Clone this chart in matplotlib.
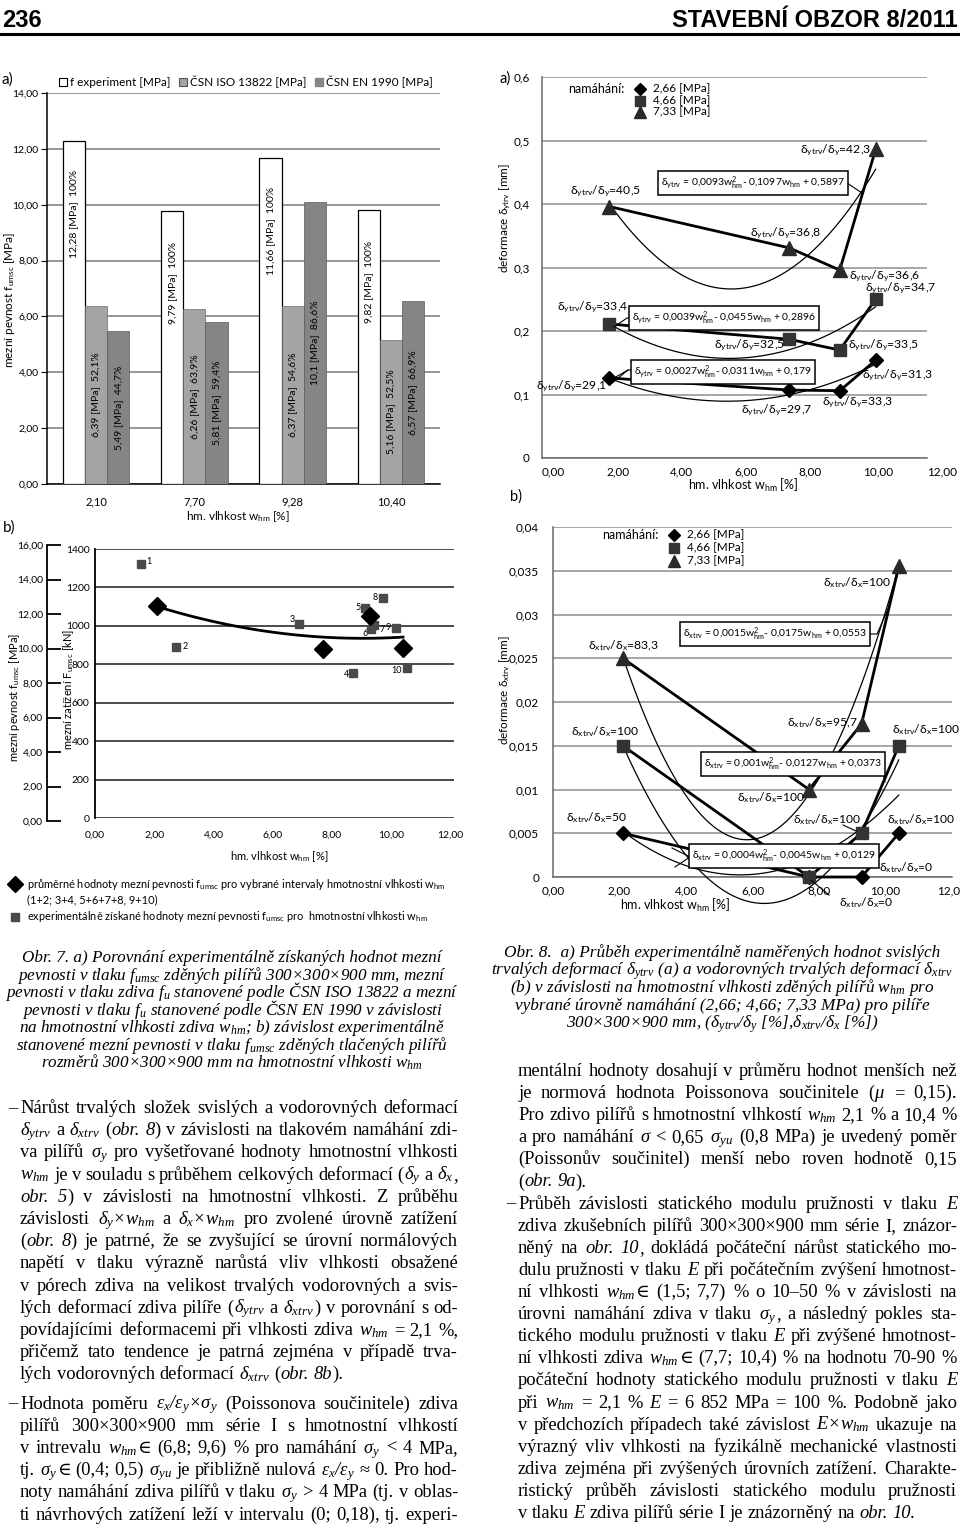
import numpy as np
import matplotlib
matplotlib.use("Agg")
import matplotlib.pyplot as plt
from matplotlib.patches import Patch
from matplotlib.lines import Line2D

W, H = 960, 1527
SANS = ["Lato", "DejaVu Sans"]
SERIF = ["Liberation Serif", "DejaVu Serif"]
plt.rcParams["font.family"] = SANS
plt.rcParams["mathtext.default"] = "regular"

# obr. 7a - pevnosti
moisture = [2.10, 7.70, 9.28, 10.40]
moisture_lbl = ["2,10", "7,70", "9,28", "10,40"]
f_exp = [12.28, 9.79, 11.66, 9.82]
f_iso = [6.39, 6.26, 6.37, 5.16]
f_en = [5.49, 5.81, 10.1, 6.57]
pct_iso = ["52,1%", "63,9%", "54,6%", "52,5%"]
pct_en = ["44,7%", "59,4%", "86,6%", "66,9%"]

# obr. 7b - mezni zatizeni
w_test = [1.54, 2.75, 6.90, 8.70, 9.12, 9.33, 9.43, 9.72, 10.15, 10.53]
F_test = [1321, 892, 1008, 757, 1091, 982, 1003, 1143, 990, 779]
F_mean = [1105, 881, 1049, 884]

# obr. 8a - svisle trvale deformace
dy_266 = [0.126, 0.107, 0.106, 0.154]
dy_466 = [0.211, 0.187, 0.170, 0.250]
dy_733 = [0.396, 0.331, 0.296, 0.486]
ry_266 = ["29,1", "29,7", "33,3", "31,3"]
ry_466 = ["33,4", "32,5", "33,5", "34,7"]
ry_733 = ["40,5", "36,8", "36,6", "42,3"]
cy_266 = [0.0027, -0.0311, 0.179]
cy_466 = [0.0039, -0.0455, 0.2896]
cy_733 = [0.0093, -0.1097, 0.5897]

# obr. 8b - vodorovne trvale deformace
dx_266 = [0.005, 0.0, 0.0, 0.005]
dx_466 = [0.015, 0.0, 0.005, 0.015]
dx_733 = [0.025, 0.010, 0.0175, 0.0355]
rx_266 = ["50", None, "0", "100"]
rx_466 = ["100", "0", "100", "100"]
rx_733 = ["83,3", "100", "95,7", "100"]
cx_266 = [0.0004, -0.0045, 0.0129]
cx_466 = [0.001, -0.0127, 0.0373]
cx_733 = [0.0015, -0.0175, 0.0553]

fig = plt.figure(figsize=(W / 100, H / 100), dpi=100)


def box(x0, y0, x1, y1):
    return [x0 / W, 1 - y1 / H, (x1 - x0) / W, (y1 - y0) / H]


def ftext(x, y, s, **kw):
    return fig.text(x / W, 1 - y / H, s, **kw)


def fline(xs, ys, lw=0.8, color="black"):
    fig.add_artist(Line2D([x / W for x in xs], [1 - y / H for y in ys],
                          transform=fig.transFigure, lw=lw, color=color))


def fmark(x, y, m, ms, color):
    fig.add_artist(Line2D([x / W], [1 - y / H], marker=m, ms=ms, color=color,
                          ls="none", transform=fig.transFigure))


def comma(v):
    return str(v).replace(".", ",")


# ---------------- header
HEAD = ["Liberation Sans Narrow", "Liberation Sans"]
ftext(2, 27, "236", fontsize=17, fontweight="bold", family=HEAD, va="baseline")
ftext(958, 27, "STAVEBNÍ OBZOR 8/2011", fontsize=17, fontweight="bold",
      family=HEAD, va="baseline", ha="right")
fline([0, 960], [34, 34], lw=2.2)

# ---------------- obr. 7a
ax = fig.add_axes(box(47, 93, 440, 484))
pos = np.arange(len(moisture))
bw = 0.225
ax.bar(pos - bw, f_exp, bw, color="white", edgecolor="black", lw=0.9, zorder=3)
ax.bar(pos, f_iso, bw, color="#a4a4a4", edgecolor="#6a6a6a", lw=0.5, zorder=3)
ax.bar(pos + bw, f_en, bw, color="#858585", edgecolor="#5a5a5a", lw=0.5, zorder=3)
for i in range(len(pos)):
    ax.text(pos[i] - bw, f_exp[i] - 2.6, comma(f_exp[i]) + " [MPa]  100%",
            rotation=90, ha="center", va="center", fontsize=7.5, zorder=4)
    ax.text(pos[i], f_iso[i] / 2, comma(f_iso[i]) + " [MPa]  " + pct_iso[i],
            rotation=90, ha="center", va="center", fontsize=7.5, zorder=4)
    ax.text(pos[i] + bw, f_en[i] / 2, comma(f_en[i]) + " [MPa]  " + pct_en[i],
            rotation=90, ha="center", va="center", fontsize=7.5, zorder=4)
ax.set_xlim(-0.5, 3.5)
ax.set_ylim(0, 14)
yt = np.arange(0, 15, 2)
ax.set_yticks(yt, [f"{v:.2f}".replace(".", ",") for v in yt])
ax.set_xticks(pos, moisture_lbl)
ax.tick_params(axis="y", length=4, labelsize=7.5, pad=2)
ax.tick_params(axis="x", length=0, labelsize=8, pad=9)
ax.yaxis.grid(True, color="#858585", lw=1.2)
ax.set_axisbelow(True)
for s in ["top", "right"]:
    ax.spines[s].set_visible(False)
ax.spines["left"].set_linewidth(1.1)
ax.spines["bottom"].set_linewidth(1.1)
fig.legend(handles=[Patch(fc="white", ec="black", lw=0.8),
                    Patch(fc="#a4a4a4", ec="#555555", lw=0.8),
                    Patch(fc="#858585", ec="#858585")],
           labels=["f experiment [MPa]", "ČSN ISO 13822 [MPa]", "ČSN EN 1990 [MPa]"],
           loc="center", bbox_to_anchor=(246 / W, 1 - 82 / H), ncol=3, frameon=False,
           fontsize=8.5, handlelength=0.7, handleheight=0.7, handletextpad=0.25,
           columnspacing=0.7, borderpad=0)
ftext(2, 80, "a)", fontsize=11, va="center")
ftext(238, 517, r"hm. vlhkost $w_{hm}$ [%]", fontsize=8.5, ha="center", va="center")
ftext(10, 300, r"mezní pevnost $f_{umsc}$ [MPa]", fontsize=8.5, rotation=90,
      ha="center", va="center")

# ---------------- obr. 7b
ftext(3, 528, "b)", fontsize=11, va="center")
ax = fig.add_axes(box(95, 549, 454, 818))
ax.set_xlim(0, 12.12)
ax.set_ylim(0, 1400)
ax.set_yticks(range(0, 1401, 200))
xt = np.arange(0, 13, 2)
ax.set_xticks(xt, [f"{v:.2f}".replace(".", ",") for v in xt])
ax.tick_params(length=0, labelsize=7.5)
ax.tick_params(axis="y", pad=4)
ax.tick_params(axis="x", pad=9)
ax.yaxis.grid(True, color="#3c3c3c", lw=1.3)
ax.set_axisbelow(True)
for s in ["top", "right", "bottom"]:
    ax.spines[s].set_visible(False)
ax.spines["left"].set_linewidth(1.3)
coef = np.polyfit(moisture, F_mean, 2)
xs = np.linspace(moisture[0], moisture[-1], 100)
ax.plot(xs, np.polyval(coef, xs), color="black", lw=2, zorder=3)
ax.plot(w_test, F_test, "s", color="#4a4a4a", ms=5.5, zorder=4)
ax.plot(moisture, F_mean, "D", color="black", ms=9, zorder=5)
num_off = [(6, 3, "left"), (6, 0, "left"), (-4, 5, "right"), (-4, -2, "right"),
           (-4, 1, "right"), (-4, -4, "right"), (5, -4, "left"), (-5, 1, "right"),
           (-5, 0, "right"), (-5, -2, "right")]
for i, (x, y) in enumerate(zip(w_test, F_test)):
    dx, dy, ha = num_off[i]
    ax.annotate(str(i + 1), (x, y), xytext=(dx, dy), textcoords="offset pixels",
                ha=ha, va="center", fontsize=6.5)
# secondary MPa scale
ax2 = fig.add_axes(box(47, 545, 60, 821))
ax2.set_ylim(0, 16)
yt = np.arange(0, 17, 2)
ax2.set_yticks(yt, [f"{v:.2f}".replace(".", ",") for v in yt])
ax2.set_xticks([])
ax2.patch.set_visible(False)
for s in ["top", "right", "bottom"]:
    ax2.spines[s].set_visible(False)
ax2.spines["left"].set_linewidth(1.3)
ax2.tick_params(axis="y", direction="in", length=10, width=1.3, labelsize=7.5, pad=3)
ftext(15, 697, r"mezní pevnost $f_{umsc}$ [MPa]", fontsize=8, rotation=90,
      ha="center", va="center")
ftext(69, 690, r"mezní zatížení $F_{umsc}$ [kN]", fontsize=8, rotation=90,
      ha="center", va="center")
ftext(279, 857, r"hm. vlhkost $w_{hm}$ [%]", fontsize=8, ha="center", va="center")
fmark(15, 884, "D", 8, "black")
fmark(15, 917, "s", 6, "#4a4a4a")
ftext(27, 884, r"průměrné hodnoty mezní pevnosti $f_{umsc}$ pro vybrané intervaly hmotnostní vlhkosti $w_{hm}$",
      fontsize=7.9, va="center")
ftext(27, 900, "(1+2; 3+4, 5+6+7+8, 9+10)", fontsize=7.9, va="center")
ftext(27, 917, r"experimentálně získané hodnoty mezní pevnosti $f_{umsc}$ pro  hmotnostní vlhkosti $w_{hm}$",
      fontsize=7.9, va="center")


# ---------------- obr. 8 helpers
def series(ax, ys, coefs, marker, ms, color):
    xs = np.linspace(moisture[0], moisture[-1], 120)
    ax.plot(xs, np.polyval(coefs, xs), color="black", lw=0.9, zorder=3, clip_on=False)
    ax.plot(moisture, ys, color="black", lw=2, zorder=4, clip_on=False)
    ax.plot(moisture, ys, marker, color=color, ms=ms, zorder=5, ls="none", clip_on=False)


def ratio_labels(ax, ys, labels, offs, k):
    for x, y, lab, (ha, dx, dy) in zip(moisture, ys, labels, offs):
        if lab is None:
            continue
        ax.annotate(rf"$δ_{{{k}trv}}/δ_{k}$={lab}", (x, y), xytext=(dx, dy),
                    textcoords="offset pixels", ha=ha, va="center", fontsize=8.7,
                    annotation_clip=False, zorder=6)


def eq_box(x, y, k, c):
    s = (rf"$δ_{{{k}trv}}$ = {comma(c[0])}$w_{{hm}}^{{2}}$- {comma(-c[1])}$w_{{hm}}$"
         rf" + {comma(c[2])}")
    ftext(x, y, s, fontsize=7.5, ha="center", va="center", zorder=7,
          bbox=dict(boxstyle="square,pad=0.3", fc="white", ec="black", lw=1.1))


def style_axes(ax):
    ax.set_xlim(0, 12)
    xt = np.arange(0, 13, 2)
    ax.yaxis.grid(True, color="#8e8e8e", lw=1.1)
    ax.set_axisbelow(True)
    for s in ["top", "right"]:
        ax.spines[s].set_visible(False)
    ax.spines["left"].set_color("#6a6a6a")
    ax.spines["bottom"].set_color("#6a6a6a")
    ax.spines["left"].set_linewidth(1.1)
    ax.spines["bottom"].set_linewidth(1.1)
    ax.tick_params(length=0, labelsize=8.5)
    return xt


def legend8(x, y0, dy):
    ftext(x, y0, "namáhání:", fontsize=9, va="center")
    mx = x + 72
    fmark(mx, y0, "D", 6, "black")
    fmark(mx, y0 + dy, "s", 7, "#333333")
    fmark(mx, y0 + 2 * dy, "^", 8, "#2a2a2a")
    for i, t in enumerate(["2,66 [MPa]", "4,66 [MPa]", "7,33 [MPa]"]):
        ftext(mx + 13, y0 + i * dy, t, fontsize=8.5, va="center")


# ---------------- obr. 8a
ax = fig.add_axes(box(542, 77, 927, 458))
xt = style_axes(ax)
ax.set_xticks(xt, [f"{v:.2f}".replace(".", ",") for v in xt], ha="left")
ax.tick_params(axis="x", pad=6)
ax.set_ylim(0, 0.6)
yt = np.arange(0, 7) / 10
ax.set_yticks(yt, ["0"] + [comma(v) for v in yt[1:]])
ax.tick_params(axis="y", pad=9)
series(ax, dy_266, cy_266, "D", 7, "black")
series(ax, dy_466, cy_466, "s", 9, "#333333")
series(ax, dy_733, cy_733, "^", 10, "#2a2a2a")
ratio_labels(ax, dy_733, ry_733, [("center", -4, 15), ("center", -3, 15),
                                  ("left", 9, -6), ("right", -5, -1)], "y")
ratio_labels(ax, dy_466, ry_466, [("center", -17, 17), ("center", -40, -6),
                                  ("left", 8, 5), ("left", -11, 11)], "y")
ratio_labels(ax, dy_266, ry_266, [("right", -2, -8), ("center", -12, -20),
                                  ("center", 18, -12), ("center", 22, -15)], "y")
eq_box(753, 183, "y", cy_733)
eq_box(724, 318, "y", cy_466)
eq_box(723, 372, "y", cy_266)
fline([839, 847, 862], [183, 183, 193])
fline([636, 627, 614], [318, 318, 327])
fline([640, 628, 614], [370, 370, 378])
fline([628, 612], [370, 383])
legend8(568, 89, 11.5)
ftext(499, 79, "a)", fontsize=10.5, va="center")
ftext(505, 218, r"deformace $δ_{ytrv}$ [mm]", fontsize=8.5, rotation=90,
      ha="center", va="center")
ftext(743, 485, r"hm. vlhkost $w_{hm}$ [%]", fontsize=9, ha="center", va="center")
ftext(510, 497, "b)", fontsize=10.5, va="center")

# ---------------- obr. 8b
ax = fig.add_axes(box(553, 527, 952, 877))
xt = style_axes(ax)
ax.set_xticks(xt, [f"{v:.2f}".replace(".", ",") for v in xt])
ax.tick_params(axis="x", pad=6)
ax.set_ylim(0, 0.04)
yt = np.arange(0, 9) * 0.005
ax.set_yticks(yt, ["0"] + [comma(round(v, 3)) for v in yt[1:]])
ax.tick_params(axis="y", pad=10)
series(ax, dx_266, cx_266, "D", 7, "black")
series(ax, dx_466, cx_466, "s", 9, "#333333")
series(ax, dx_733, cx_733, "^", 10, "#2a2a2a")
ratio_labels(ax, dx_733, rx_733, [("center", 1, 13), ("center", -38, -8),
                                  ("right", -4, 1), ("center", -42, -16)], "x")
ratio_labels(ax, dx_466, rx_466, [("center", -18, 14), ("center", 57, -26),
                                  ("center", -34, 14), ("center", 27, 16)], "x")
ratio_labels(ax, dx_266, rx_266, [("center", -26, 16), ("center", 0, 0),
                                  ("left", 17, 9), ("center", 22, 14)], "x")
eq_box(775, 634, "x", cx_733)
eq_box(793, 764, "x", cx_466)
eq_box(784, 856, "x", cx_266)
fline([865, 877, 889], [634, 634, 607])
fline([879, 882, 885], [764, 770, 782])
fline([698, 690, 675], [857, 857, 867])
fline([690, 672], [857, 848])
fline([829, 811], [895, 880])
fline([843, 856], [825, 831])
legend8(602, 535, 13)
ftext(505, 690, r"deformace $δ_{xtrv}$ [mm]", fontsize=8.5, rotation=90,
      ha="center", va="center")
ftext(675, 905, r"hm. vlhkost $w_{hm}$ [%]", fontsize=9, ha="center", va="center")

# ---------------- captions
cap7 = [
    "Obr. 7. a) Porovnání experimentálně získaných hodnot mezní",
    r"pevnosti v tlaku $f_{umsc}$ zděných pilířů 300×300×900 mm, mezní",
    r"pevnosti v tlaku zdiva $f_u$ stanovené podle ČSN ISO 13822 a mezní",
    r"pevnosti v tlaku $f_u$ stanovené podle ČSN EN 1990 v závislosti",
    r"na hmotnostní vlhkosti zdiva $w_{hm}$; b) závislost experimentálně",
    r"stanovené mezní pevnosti v tlaku $f_{umsc}$ zděných tlačených pilířů",
    r"rozměrů 300×300×900 mm na hmotnostní vlhkosti $w_{hm}$",
]
cap8 = [
    "Obr. 8.  a) Průběh experimentálně naměřených hodnot svislých",
    r"trvalých deformací $δ_{ytrv}$ (a) a vodorovných trvalých deformací $δ_{xtrv}$",
    r"(b) v závislosti na hmotnostní vlhkosti zděných pilířů $w_{hm}$ pro",
    "vybrané úrovně namáhání (2,66; 4,66; 7,33 MPa) pro pilíře",
    r"300×300×900 mm, ($δ_{ytrv}/δ_y$ [%],$δ_{xtrv}/δ_x$ [%])",
]
for i, s in enumerate(cap7):
    ftext(232, 962 + i * 17.6, s, fontsize=12.3, style="italic", family=SERIF,
          ha="center", va="baseline")
for i, s in enumerate(cap8):
    ftext(722, 957 + i * 17.6, s, fontsize=12.4, style="italic", family=SERIF,
          ha="center", va="baseline")

# ---------------- body text ("~" = italic part, "§" = parts glued without space)
left_body = [
    "– Nárůst trvalých složek svislých a vodorovných deformací",
    r"~$δ_{ytrv}$ a ~$δ_{xtrv}$ (§~obr. ~8§) v závislosti na tlakovém namáhání zdi-",
    r"va pilířů ~$σ_y$ pro vyšetřované hodnoty hmotnostní vlhkosti",
    r"~$w_{hm}$ je v souladu s průběhem celkových deformací (§~$δ_y$ a ~$δ_x$§,",
    "~obr. ~5§) v závislosti na hmotnostní vlhkosti. Z průběhu",
    r"závislosti ~$δ_y{\times}w_{hm}$ a ~$δ_x{\times}w_{hm}$ pro zvolené úrovně zatížení",
    "(§~obr. ~8§) je patrné, že se zvyšující se úrovní normálových",
    "napětí v tlaku výrazně narůstá vliv vlhkosti obsažené",
    "v pórech zdiva na velikost trvalých vodorovných a svis-",
    r"lých deformací zdiva pilíře (§~$δ_{ytrv}$ a ~$δ_{xtrv}$§) v porovnání s od-",
    r"povídajícími deformacemi při vlhkosti zdiva ~$w_{hm}$ = 2,1 %,",
    "přičemž tato tendence je patrná zejména v případě trva-",
    r"lých vodorovných deformací ~$δ_{xtrv}$ (§~obr. ~8b§).",
    r"– Hodnota poměru ~$ε_x/ε_y{\times}σ_y$ (Poissonova součinitele) zdiva",
    "pilířů 300×300×900 mm série I s hmotnostní vlhkostí",
    r"v intrevalu ~$w_{hm}$§∈ (6,8; 9,6) % pro namáhání ~$σ_y$ < 4 MPa,",
    r"tj. ~$σ_y$§∈ (0,4; 0,5) ~$σ_{yu}$ je přibližně nulová ~$ε_x/ε_y$ ≈ 0. Pro hod-",
    r"noty namáhání zdiva pilířů v tlaku ~$σ_y$ > 4 MPa (tj. v oblas-",
    "ti návrhových zatížení leží v intervalu (0; 0,18), tj. experi-",
]
left_last = {12}
right_body = [
    "mentální hodnoty dosahují v průměru hodnot menších než",
    r"je normová hodnota Poissonova součinitele (§~$μ$ = 0,15).",
    r"Pro zdivo pilířů s hmotnostní vlhkostí ~$w_{hm}$ 2,1 % a 10,4 %",
    r"a pro namáhání ~σ < 0,65 ~$σ_{yu}$ (0,8 MPa) je uvedený poměr",
    "(Poissonův součinitel) menší nebo roven hodnotě 0,15",
    "(§~obr. ~9a§).",
    "– Průběh závislosti statického modulu pružnosti v tlaku ~E",
    "zdiva zkušebních pilířů 300×300×900 mm série I, znázor-",
    "něný na ~obr. ~10§, dokládá počáteční nárůst statického mo-",
    "dulu pružnosti v tlaku ~E při počátečním zvýšení hmotnost-",
    r"ní vlhkosti ~$w_{hm}$§∈ (1,5; 7,7) % o 10–50 % v závislosti na",
    r"úrovni namáhání zdiva v tlaku ~$σ_y$§, a následný pokles sta-",
    "tického modulu pružnosti v tlaku ~E při zvýšené hmotnost-",
    r"ní vlhkosti zdiva ~$w_{hm}$§∈ (7,7; 10,4) % na hodnotu 70-90 %",
    "počáteční hodnoty statického modulu pružnosti v tlaku ~E",
    r"při ~$w_{hm}$ = 2,1 % ~E = 6 852 MPa = 100 %. Podobně jako",
    r"v předchozích případech také závislost ~$E{\times}w_{hm}$ ukazuje na",
    "výrazný vliv vlhkosti na fyzikálně mechanické vlastnosti",
    "zdiva zejména při zvýšených úrovních zatížení. Charakte-",
    "ristický průběh závislosti statického modulu pružnosti",
    "v tlaku ~E zdiva pilířů série I je znázorněný na ~obr. ~10.",
]
right_last = {5, 20}
renderer = fig.canvas.get_renderer()
BODY = 13.3


def body_line(line, x0, x1, y, justify):
    if line.startswith("– "):
        ftext(x0 - 12, y, "–", fontsize=BODY, family=SERIF, va="baseline")
        line = line[2:]
    words = []
    for word in line.split(" "):
        parts = []
        for p in word.split("§"):
            ital = p.startswith("~")
            parts.append(fig.text(0, 0, p.lstrip("~"), fontsize=BODY, family=SERIF,
                                  style="italic" if ital else "normal", va="baseline"))
        words.append(parts)
    widths = [[t.get_window_extent(renderer).width for t in parts] for parts in words]
    total = sum(sum(ws) for ws in widths)
    gap = BODY * 100 / 72 * 0.25
    if justify and len(words) > 1:
        gap = (x1 - x0 - total) / (len(words) - 1)
    x = x0
    for parts, ws in zip(words, widths):
        for t, wd in zip(parts, ws):
            t.set_position((x / W, 1 - y / H))
            x += wd
        x += gap


for i, line in enumerate(left_body):
    y = 1113 + i * 22.2 + (7 if i >= 13 else 0)
    body_line(line, 20, 458, y, i not in left_last)
for i, line in enumerate(right_body):
    y = 1076 + i * 22.1
    body_line(line, 518, 957, y, i not in right_last)

fig.savefig("out.png", dpi=100, facecolor="white")
